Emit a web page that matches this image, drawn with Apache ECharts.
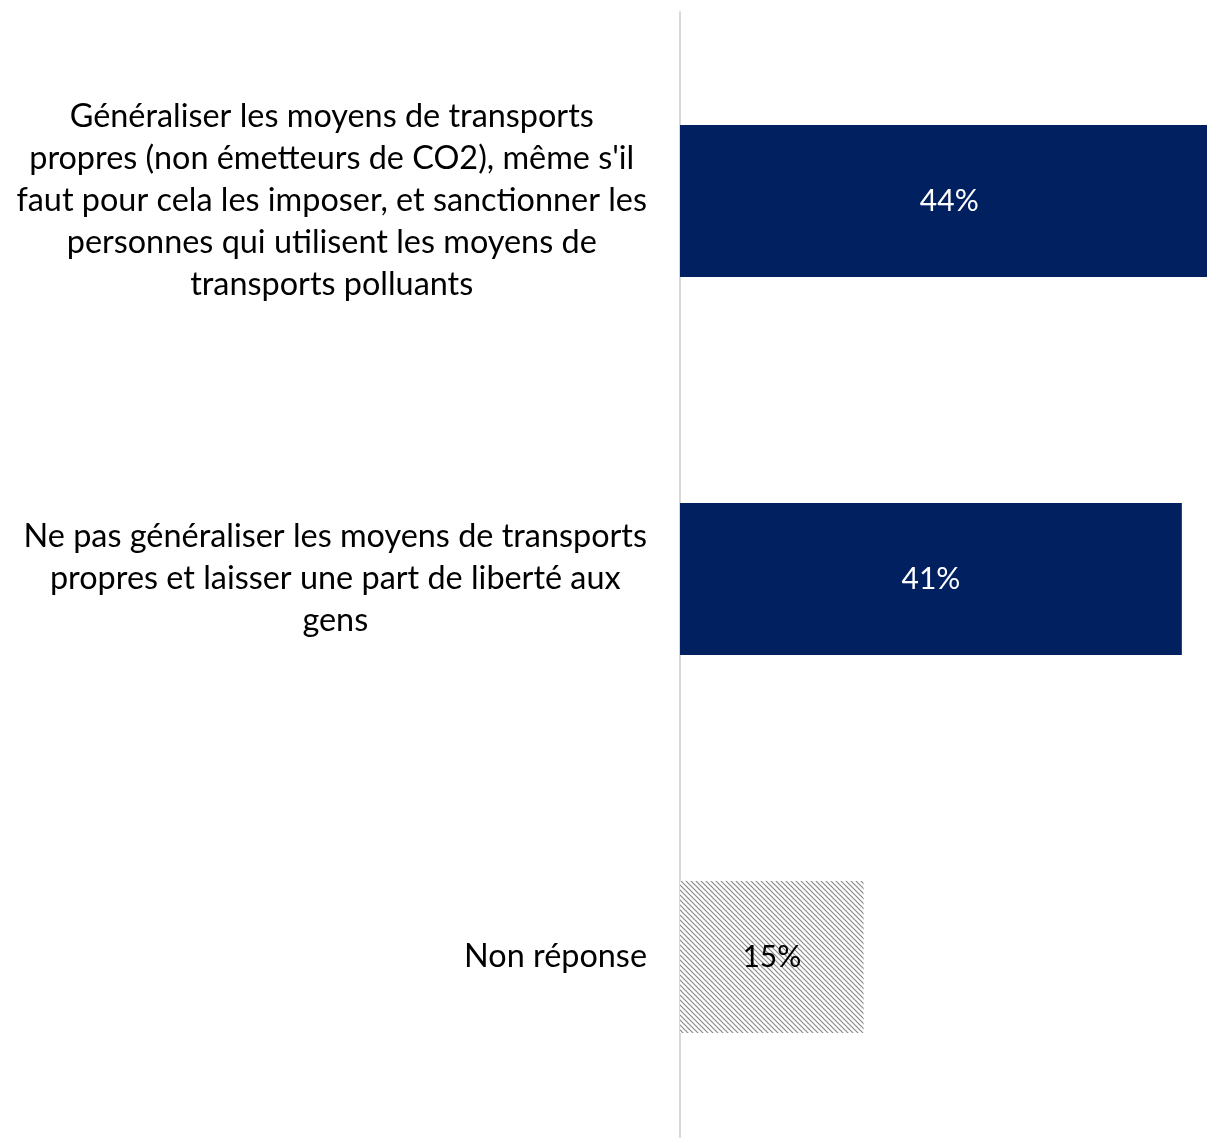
<!DOCTYPE html>
<html><head><meta charset="utf-8">
<script src="https://cdn.jsdelivr.net/npm/echarts@6/dist/echarts.min.js"></script>
<style>html,body{margin:0;padding:0;background:#fff}#c{width:1207px;height:1138px}</style>
</head><body><div id="c"></div>
<script>
const categories = [
  "Généraliser les moyens de transports\npropres (non émetteurs de CO2), même s'il\nfaut pour cela les imposer, et sanctionner les\npersonnes qui utilisent les moyens de\ntransports polluants",
  "Ne pas généraliser les moyens de transports\npropres et laisser une part de liberté aux\ngens",
  "Non réponse"
];
const values = [44, 41, 15];
const valueLabels = ["44%", "41%", "15%"];

const FONT = 'Lato';

function hatch() {
  const s = 5, cv = document.createElement('canvas');
  cv.width = s; cv.height = s;
  const g = cv.getContext('2d');
  g.fillStyle = '#fff'; g.fillRect(0, 0, s, s);
  g.strokeStyle = '#8a8a8a'; g.lineWidth = 1.2;
  g.beginPath();
  g.moveTo(-1, -1); g.lineTo(s + 1, s + 1);
  g.moveTo(-1, s - 1); g.lineTo(1, s + 1);
  g.moveTo(s - 1, -1); g.lineTo(s + 1, 1);
  g.stroke();
  return cv;
}

const chart = echarts.init(document.getElementById('c'), null, {renderer: 'canvas'});
chart.setOption({
  animation: false,
  grid: {left: 680, top: 12, width: 612, height: 1134, containLabel: false, outerBoundsMode: 'none'},
  xAxis: {type: 'value', min: 0, max: 50, show: false},
  yAxis: {
    type: 'category', inverse: true, data: categories,
    axisLine: {show: true, lineStyle: {color: '#d9d9d9', width: 2}},
    axisTick: {show: false},
    axisLabel: {
      margin: 33, align: 'right', color: '#000', fontFamily: FONT, fontSize: 32.4,
      lineHeight: 42,
      formatter: v => v.split('\n').map(l => '{c|' + l + '}').join('\n'),
      rich: {c: {align: 'center', fontFamily: FONT, fontSize: 32.4, lineHeight: 42, color: '#000'}}
    }
  },
  series: [{
    type: 'bar', barWidth: 152,
    data: values.map((v, i) => ({
      value: v,
      itemStyle: {color: i === 2 ? {image: hatch(), repeat: 'repeat'} : '#002060'},
      label: {color: i === 2 ? '#000' : '#fff'}
    })),
    label: {
      show: true, position: 'inside', fontFamily: FONT, fontSize: 30,
      formatter: p => valueLabels[p.dataIndex]
    }
  }]
});
</script></body></html>
